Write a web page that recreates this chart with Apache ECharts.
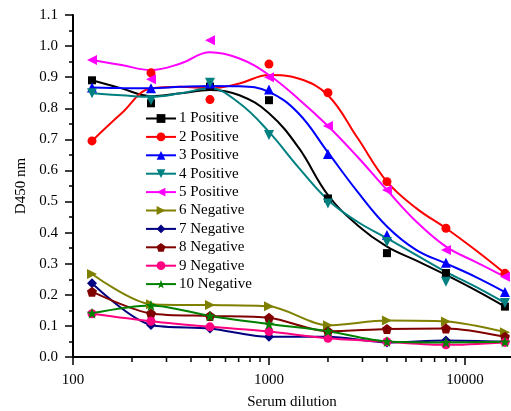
<!DOCTYPE html>
<html>
<head>
<meta charset="utf-8">
<script src="https://cdn.jsdelivr.net/npm/echarts@6/dist/echarts.min.js"></script>
<style>html,body{margin:0;padding:0;background:#fff}#c{width:511px;height:411px}</style>
</head>
<body>
<div id="c"></div>
<script>
// Serum dilutions of the measured points
var dilutions = [125, 250, 500, 1000, 2000, 4000, 8000, 16000];
var curveDilutions = [125, 177, 250, 354, 500, 707, 1000, 1414, 2000, 2828, 4000, 5657, 8000, 11314, 16000];
var minorTickValues = [200, 300, 400, 500, 600, 700, 800, 900, 2000, 3000, 4000, 5000, 6000, 7000, 8000, 9000];
var xTickLabels = [100, 1000, 10000];

var names = ['1 Positive','2 Positive','3 Positive','4 Positive','5 Positive','6 Negative','7 Negative','8 Negative','9 Negative','10 Negative'];

// measured points (D450)
var p1 = [0.89, 0.816, 0.87, 0.826, 0.51, 0.334, 0.27, 0.162];
var p2 = [0.695, 0.914, 0.828, 0.942, 0.85, 0.564, 0.414, 0.269];
var p3 = [0.867, 0.864, 0.88, 0.86, 0.653, 0.392, 0.303, 0.209];
var p4 = [0.848, 0.826, 0.882, 0.714, 0.494, 0.37, 0.242, 0.174];
var p5 = [0.955, 0.893, 1.019, 0.90, 0.743, 0.537, 0.344, 0.258];
var p6 = [0.267, 0.17, 0.167, 0.163, 0.102, 0.117, 0.114, 0.08];
var p7 = [0.237, 0.103, 0.092, 0.065, 0.065, 0.047, 0.053, 0.049];
var p8 = [0.21, 0.14, 0.132, 0.126, 0.083, 0.09, 0.092, 0.065];
var p9 = [0.139, 0.115, 0.097, 0.082, 0.06, 0.049, 0.039, 0.047];
var p10 = [0.141, 0.166, 0.132, 0.106, 0.083, 0.05, 0.047, 0.049];

// fitted curves of the positive sera (at curveDilutions)
var c1 = [0.89, 0.864, 0.839, 0.848, 0.859, 0.842, 0.784, 0.674, 0.521, 0.424, 0.355, 0.31, 0.264, 0.215, 0.162];
var c2 = [0.695, 0.784, 0.864, 0.869, 0.864, 0.88, 0.907, 0.896, 0.842, 0.705, 0.564, 0.478, 0.414, 0.344, 0.269];
var c3 = [0.867, 0.865, 0.864, 0.869, 0.872, 0.871, 0.853, 0.784, 0.658, 0.532, 0.42, 0.344, 0.301, 0.258, 0.209];
var c4 = [0.848, 0.842, 0.837, 0.848, 0.864, 0.816, 0.724, 0.61, 0.505, 0.435, 0.382, 0.328, 0.274, 0.226, 0.174];
var c5 = [0.955, 0.939, 0.923, 0.944, 0.98, 0.96, 0.907, 0.83, 0.743, 0.644, 0.537, 0.435, 0.355, 0.306, 0.258];

var points = [p1, p2, p3, p4, p5, p6, p7, p8, p9, p10];
var curves = [c1, c2, c3, c4, c5, p6, p7, p8, p9, p10];
var colors = ['#000000','#ff0000','#0000ff','#008080','#ff00ff','#808000','#000080','#800000','#ff0080','#008000'];
var pentagon = 'path://M0,-10L9.51,-3.09L5.88,8.09L-5.88,8.09L-9.51,-3.09Z';
var star = 'path://M0,-10L2.35,-3.24L9.51,-3.09L3.8,1.24L5.88,8.09L0,4L-5.88,8.09L-3.8,1.24L-9.51,-3.09L-2.35,-3.24Z';
var symbols = ['rect','circle','triangle','triangle','triangle','triangle','diamond',pentagon,'circle',star];
var rotates = [0,0,0,180,90,-90,0,0,0,0];
var sizes = [8,9,10,10,10,10,10,10,9,11];

function pairs(xs, ys){ return xs.map(function(x,i){ return [x, ys[i]]; }); }

var series = [];
for (var i = 0; i < 10; i++) {
  var cx = i < 5 ? curveDilutions : dilutions;
  series.push({
    name: names[i], type: 'line', smooth: i < 5 ? 0.4 : 0.3,
    data: pairs(cx, curves[i]),
    showSymbol: false, symbol: symbols[i], symbolRotate: rotates[i], symbolSize: sizes[i],
    lineStyle: {color: colors[i], width: 2}, itemStyle: {color: colors[i]},
    z: 2, silent: true, animation: false
  });
}
for (var j = 0; j < 10; j++) {
  series.push({
    name: names[j] + ' pts', type: 'scatter',
    data: pairs(dilutions, points[j]),
    symbol: symbols[j], symbolRotate: rotates[j], symbolSize: sizes[j],
    itemStyle: {color: colors[j], opacity: 1}, z: 3, silent: true, animation: false
  });
}
series.push({
  name: 'minor ticks', type: 'custom', silent: true, animation: false, clip: false, z: 5,
  data: minorTickValues.map(function(v){ return [v, 0]; }),
  renderItem: function(params, api){
    var p = api.coord([api.value(0), 0]);
    return {type: 'line', shape: {x1: p[0], y1: p[1], x2: p[0], y2: p[1] + 5}, style: {stroke: '#000', lineWidth: 1.5}};
  }
});

var font = 'Liberation Serif';
var chart = echarts.init(document.getElementById('c'));
chart.setOption({
  animation: false,
  backgroundColor: '#fff',
  textStyle: {fontFamily: font, color: '#000'},
  grid: {left: 73, right: 0, top: 15, bottom: 54, containLabel: false, outerBoundsMode: 'none'},
  legend: {
    data: names, orient: 'vertical', left: 145, top: 111, padding: 0,
    itemWidth: 30, itemHeight: 11, itemGap: 3.4, selectedMode: false,
    textStyle: {fontFamily: font, fontSize: 15, color: '#000', padding: [0,0,0,-2]}
  },
  xAxis: {
    type: 'log', logBase: 10, min: 100, max: 17180,
    name: 'Serum dilution', nameLocation: 'middle', nameGap: 38,
    nameTextStyle: {fontFamily: font, fontSize: 15, color: '#000'},
    axisLine: {lineStyle: {color: '#000', width: 2}},
    axisTick: {length: 8, lineStyle: {color: '#000', width: 1.5}},
    axisLabel: {fontFamily: font, fontSize: 15, color: '#000', margin: 16, showMaxLabel: false,
      formatter: function(v){ return xTickLabels.indexOf(Math.round(v)) >= 0 ? String(Math.round(v)) : ''; }},
    splitLine: {show: false}
  },
  yAxis: {
    type: 'value', min: 0, max: 1.1, interval: 0.1,
    name: 'D450 nm', nameLocation: 'middle', nameGap: 41, nameRotate: 90,
    nameTextStyle: {fontFamily: font, fontSize: 15, color: '#000'},
    axisLine: {show: true, lineStyle: {color: '#000', width: 2}},
    axisTick: {show: true, length: 8, lineStyle: {color: '#000', width: 1.5}},
    minorTick: {show: true, splitNumber: 2, length: 4, lineStyle: {color: '#000', width: 1.5}},
    axisLabel: {fontFamily: font, fontSize: 15, color: '#000', margin: 15,
      formatter: function(v){ return v.toFixed(1); }},
    splitLine: {show: false}
  },
  series: series
});
</script>
</body>
</html>
